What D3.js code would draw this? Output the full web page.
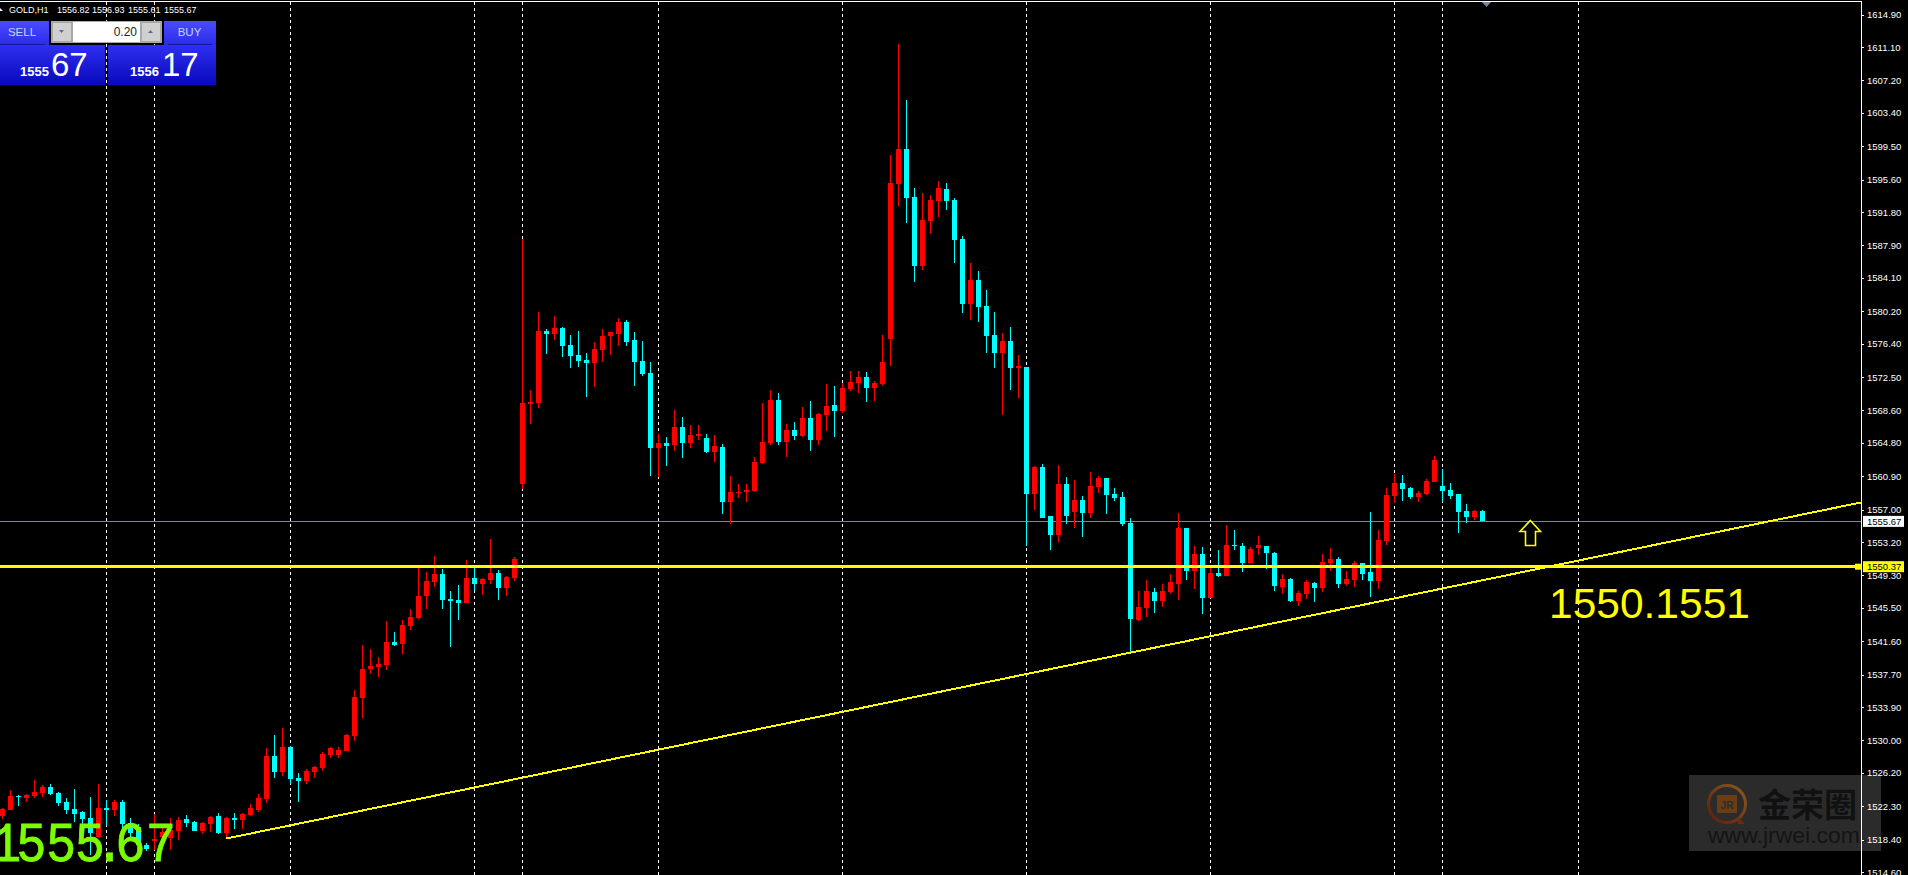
<!DOCTYPE html>
<html>
<head>
<meta charset="utf-8">
<title>GOLD,H1</title>
<script src="https://cdn.jsdelivr.net/npm/d3@7"></script>
<style>
    html, body { margin: 0; padding: 0; background: #000; overflow: hidden; }
    svg { display: block; }
    text { font-family: "Liberation Sans", Arial, sans-serif; }
</style>
</head>
<body>
<div id="plot"></div>
<script>
"use strict";

// hourly candles
const opens = [
    1521.15,1521.85,1523.49,1523.26,1523.49,1523.84,1524.54,1523.84,1522.79,1521.97,
    1521.62,1520.92,1518.73,1522.09,1521.85,1522.79,1520.33,1519.86,1517.76,1518.23,
    1518.73,1518.58,1519.40,1520.80,1520.45,1519.40,1520.22,1521.15,1519.16,1520.92,
    1520.68,1521.27,1521.85,1523.14,1528.17,1526.30,1529.22,1525.60,1525.24,1526.30,
    1526.77,1528.29,1528.29,1528.75,1530.51,1534.95,1538.34,1538.58,1538.81,1541.50,
    1541.27,1543.37,1544.31,1546.88,1548.52,1549.46,1546.53,1546.41,1546.06,1548.99,
    1548.29,1548.76,1549.57,1547.82,1548.99,1559.98,1569.34,1569.46,1577.88,1577.53,
    1578.23,1576.24,1575.07,1574.49,1574.13,1575.66,1577.29,1577.53,1578.93,1576.82,
    1574.37,1572.97,1564.19,1564.78,1564.54,1566.65,1564.78,1565.60,1565.36,1563.73,
    1564.31,1557.88,1558.93,1559.05,1559.16,1562.44,1564.78,1569.81,1564.90,1566.30,
    1565.60,1567.70,1565.13,1568.05,1569.22,1568.52,1571.09,1571.80,1572.50,1571.21,
    1571.68,1576.94,1595.07,1599.16,1593.55,1585.48,1590.74,1593.08,1594.48,1593.20,
    1588.64,1581.03,1583.84,1580.80,1577.41,1575.30,1576.71,1573.55,1573.67,1558.82,
    1561.97,1556.24,1554.02,1559.99,1556.71,1558.11,1556.59,1559.63,1560.69,1558.82,
    1558.47,1555.42,1544.08,1545.48,1547.35,1546.30,1547.35,1548.29,1554.84,1549.81,
    1551.80,1546.65,1549.58,1549.23,1552.85,1552.73,1550.75,1552.50,1552.73,1551.92,
    1547.94,1548.87,1546.30,1547.12,1548.41,1547.82,1550.75,1551.21,1548.29,1548.76,
    1550.75,1549.69,1548.64,1553.32,1558.58,1560.10,1559.52,1558.47,1558.82,1560.22,
    1559.75,1559.28,1558.82,1556.83,1556.13,1556.82
];
const closes = [
    1521.97,1523.49,1523.33,1523.61,1523.96,1524.54,1523.72,1522.67,1521.85,1521.39,
    1520.80,1519.12,1522.09,1521.85,1522.79,1520.22,1519.12,1517.76,1517.29,1518.42,
    1519.32,1519.51,1520.68,1520.33,1519.40,1520.33,1521.03,1519.16,1520.92,1520.68,
    1521.39,1522.09,1523.26,1528.17,1526.30,1529.22,1525.48,1525.24,1526.41,1526.88,
    1528.40,1529.10,1528.87,1530.62,1535.07,1538.34,1538.70,1538.93,1541.50,1541.15,
    1543.49,1544.43,1546.88,1548.64,1549.46,1546.41,1546.30,1546.06,1548.99,1548.29,
    1548.87,1549.57,1547.82,1549.11,1551.21,1569.46,1569.57,1577.88,1577.53,1578.23,
    1576.12,1574.95,1574.37,1574.13,1575.77,1577.29,1577.76,1578.93,1576.59,1574.25,
    1572.85,1564.19,1564.78,1564.43,1566.65,1564.78,1565.71,1565.83,1563.73,1564.43,
    1557.88,1559.05,1559.05,1559.28,1562.56,1564.90,1569.81,1564.90,1566.30,1565.60,
    1567.70,1565.13,1568.17,1569.11,1568.52,1571.21,1571.91,1572.50,1571.21,1571.80,
    1574.25,1595.19,1599.16,1593.43,1585.48,1590.86,1593.20,1594.60,1593.08,1588.52,
    1581.03,1583.84,1580.68,1577.29,1575.30,1576.71,1573.55,1573.78,1558.82,1561.97,
    1556.01,1554.02,1559.99,1556.24,1558.11,1556.59,1559.75,1560.69,1558.70,1558.35,
    1555.31,1544.20,1545.60,1547.47,1546.30,1547.47,1548.52,1554.84,1549.81,1551.80,
    1546.65,1549.58,1549.23,1552.85,1552.73,1550.75,1552.38,1552.85,1551.92,1548.06,
    1548.87,1546.30,1547.24,1548.52,1547.82,1550.86,1551.21,1548.29,1548.87,1550.75,
    1549.46,1548.64,1553.44,1558.70,1560.10,1559.40,1558.47,1558.93,1560.34,1562.79,
    1559.17,1558.58,1556.71,1556.13,1556.83,1555.67
];
const highs = [
    1522.05,1524.19,1523.61,1523.72,1525.36,1524.78,1524.89,1523.96,1523.26,1524.31,
    1521.74,1523.37,1524.89,1523.02,1523.02,1523.02,1520.92,1520.22,1517.95,1521.39,
    1519.71,1520.92,1521.03,1521.27,1520.57,1520.45,1521.15,1521.50,1521.03,1521.50,
    1521.50,1522.55,1523.72,1529.10,1530.62,1531.44,1529.34,1526.18,1526.65,1527.00,
    1528.64,1529.22,1529.22,1530.74,1535.89,1541.15,1540.68,1539.75,1543.96,1542.67,
    1544.07,1545.36,1550.16,1549.69,1551.56,1550.04,1547.47,1548.17,1551.09,1550.16,
    1548.99,1553.55,1549.92,1549.22,1551.45,1588.64,1570.98,1580.10,1578.11,1579.63,
    1578.35,1577.41,1577.88,1575.30,1576.59,1578.11,1577.76,1579.40,1579.16,1577.76,
    1576.71,1574.25,1565.83,1565.48,1568.64,1567.82,1566.88,1566.88,1565.83,1565.71,
    1564.66,1560.92,1559.98,1559.98,1563.14,1569.46,1570.98,1570.63,1567.00,1567.23,
    1568.99,1569.69,1568.29,1571.68,1571.45,1571.80,1573.20,1573.20,1573.08,1572.03,
    1577.41,1598.46,1611.44,1604.89,1594.60,1594.02,1593.78,1595.42,1595.19,1593.43,
    1588.99,1585.83,1584.89,1582.67,1580.10,1577.64,1578.34,1575.07,1573.67,1562.09,
    1562.32,1556.24,1562.21,1560.80,1560.45,1558.58,1561.39,1560.92,1560.69,1559.52,
    1559.05,1556.01,1547.47,1548.76,1547.82,1548.29,1549.46,1556.59,1554.84,1552.73,
    1552.62,1550.16,1552.27,1555.19,1554.61,1553.08,1552.62,1553.90,1552.73,1552.03,
    1549.46,1548.99,1547.47,1548.76,1548.52,1551.80,1552.50,1551.45,1549.81,1550.98,
    1550.75,1556.71,1554.61,1559.52,1561.16,1561.04,1559.63,1559.17,1560.57,1563.26,
    1561.74,1560.10,1558.82,1557.65,1556.94,1556.93
];
const lows = [
    1520.80,1521.85,1522.32,1522.79,1523.26,1523.37,1523.61,1522.32,1521.39,1520.45,
    1520.22,1516.59,1518.54,1519.98,1521.15,1519.40,1518.73,1517.37,1517.06,1517.17,
    1518.34,1517.17,1518.34,1519.86,1519.40,1519.05,1519.28,1519.05,1518.58,1519.63,
    1519.63,1521.15,1521.62,1522.67,1525.60,1525.83,1524.89,1522.79,1524.89,1525.60,
    1526.41,1527.93,1527.93,1528.75,1529.92,1532.61,1537.76,1537.41,1538.23,1541.03,
    1540.10,1542.91,1544.19,1545.36,1547.93,1545.36,1540.92,1544.07,1546.06,1547.47,
    1547.00,1548.29,1546.42,1546.88,1548.64,1559.40,1567.00,1568.87,1575.19,1576.82,
    1574.84,1573.55,1573.67,1570.16,1571.33,1574.25,1575.07,1576.12,1576.12,1571.45,
    1572.61,1560.92,1560.80,1562.09,1563.84,1563.02,1564.19,1565.13,1563.61,1562.56,
    1556.47,1555.30,1558.35,1557.88,1559.05,1562.32,1564.54,1564.54,1563.14,1565.13,
    1565.48,1563.84,1564.54,1566.18,1565.48,1568.29,1570.86,1570.63,1569.57,1569.69,
    1571.45,1573.78,1592.50,1590.51,1583.61,1585.01,1589.22,1591.21,1592.03,1585.83,
    1579.98,1579.16,1578.93,1575.30,1573.55,1568.05,1570.98,1570.04,1552.73,1556.94,
    1556.01,1552.27,1553.20,1555.31,1554.84,1553.79,1556.01,1558.93,1556.48,1558.00,
    1555.07,1540.34,1543.96,1544.43,1544.90,1545.60,1547.12,1546.42,1548.76,1547.70,
    1544.78,1546.65,1549.11,1549.23,1552.27,1549.69,1550.75,1551.68,1550.04,1547.47,
    1547.12,1546.18,1545.72,1546.54,1546.18,1547.35,1549.81,1547.82,1548.06,1547.94,
    1548.76,1546.77,1547.70,1552.85,1557.76,1558.00,1558.23,1557.88,1558.70,1560.22,
    1557.88,1558.23,1554.25,1555.42,1555.77,1555.61
];

const priceTicks = [
    1614.90,1611.10,1607.20,1603.40,1599.50,1595.60,1591.80,1587.90,1584.10,
    1580.20,1576.40,1572.50,1568.60,1564.80,1560.90,1557.00,1553.20,1549.30,
    1545.50,1541.60,1537.70,1533.90,1530.00,1526.20,1522.30,1518.40,1514.60
];
// bars where the period separators fall
const separators = [13, 19, 36, 59, 65, 82, 105, 128, 151, 174, 180, 197];

const bidPrice = 1555.67;
const supportPrice = 1550.37;
const trendBars = [28, 232.4];
const trendPrices = [1518.52, 1557.84];

const msm = {
    width: 1909,
    height: 875,
    axisX: 1861,
    bodyWidth: 5,
    lineNudge: 0.6 // horizontal lines sit on the pixel row below the exact price
}

const colors = {
    up: "#ff0000",
    down: "#00ffff",
    line: "#ffff00",
    bid: "#778899",
    text: "#ffffff",
    big: "#7cfc00"
}

let svg = "";
let x = "";
let y = "";

function makeScales() {
    // 8px per bar, first bar centred on 2.5
    x = d3.scaleLinear().domain([0, 185]).range([2.5, 1482.5]);
    y = d3.scaleLinear().domain([1557, 1518.4]).range([509.5, 839.5]);
}

function drawSeparators() {
    svg.append("g")
        .selectAll("line")
        .data(separators)
        .enter()
        .append("line")
        .attr("x1", d => x(d))
        .attr("x2", d => x(d))
        .attr("y1", 2)
        .attr("y2", msm.height)
        .attr("stroke", "#fff")
        .attr("stroke-dasharray", "3 3")
        .attr("shape-rendering", "crispEdges");
}

function drawBidLine() {
    svg.append("line")
        .attr("x1", 0)
        .attr("x2", msm.axisX)
        .attr("y1", y(bidPrice) + msm.lineNudge)
        .attr("y2", y(bidPrice) + msm.lineNudge)
        .attr("stroke", colors.bid)
        .attr("shape-rendering", "crispEdges");
}

function drawCandles() {
    let candles = svg.append("g")
        .attr("shape-rendering", "crispEdges")
        .selectAll("g")
        .data(opens)
        .enter()
        .append("g");
    let color = (o, i) => closes[i] >= o ? colors.up : colors.down;

    candles.append("line")
        .attr("x1", (o, i) => x(i))
        .attr("x2", (o, i) => x(i))
        .attr("y1", (o, i) => y(highs[i]))
        .attr("y2", (o, i) => y(lows[i]))
        .attr("stroke", color);

    candles.append("rect")
        .attr("x", (o, i) => x(i) - msm.bodyWidth / 2)
        .attr("width", msm.bodyWidth)
        .attr("y", (o, i) => y(Math.max(o, closes[i])))
        .attr("height", (o, i) => Math.max(1, Math.abs(y(o) - y(closes[i]))))
        .attr("fill", color);
}

function drawLevels() {
    // rising trend line
    svg.append("line")
        .attr("x1", x(trendBars[0]))
        .attr("y1", y(trendPrices[0]))
        .attr("x2", x(trendBars[1]))
        .attr("y2", y(trendPrices[1]))
        .attr("stroke", colors.line)
        .attr("stroke-width", 2)
        .attr("shape-rendering", "crispEdges");

    // horizontal level + its drag handle
    svg.append("line")
        .attr("x1", 0)
        .attr("x2", msm.axisX)
        .attr("y1", y(supportPrice) + msm.lineNudge)
        .attr("y2", y(supportPrice) + msm.lineNudge)
        .attr("stroke", colors.line)
        .attr("stroke-width", 3)
        .attr("shape-rendering", "crispEdges");
    svg.append("rect")
        .attr("x", 1855)
        .attr("y", y(supportPrice) - 2.5)
        .attr("width", 6)
        .attr("height", 6)
        .attr("fill", colors.line);

    // hollow arrow
    svg.append("path")
        .attr("d", "M1530.3 520.5 L1540.5 531.5 L1535.5 531.5 L1535.5 545.5 L1525.5 545.5 L1525.5 531.5 L1520 531.5 Z")
        .attr("fill", "#000")
        .attr("stroke", colors.line)
        .attr("stroke-width", 1.6);

    svg.append("text")
        .attr("x", 1549)
        .attr("y", 618)
        .attr("fill", colors.line)
        .style("font-size", "42.5px")
        .text("1550.1551");

    // glyphs placed one by one and squeezed a bit, the dot takes less room than a full mono cell
    svg.append("text")
        .attr("transform", "scale(0.9,1)")
        .attr("x", "-10 18 51 83 105 128 162")
        .attr("y", 861)
        .attr("fill", colors.big)
        .attr("stroke", colors.big)
        .attr("stroke-width", 0.8)
        .style("font-family", "'Liberation Mono', monospace")
        .style("font-size", "56px")
        .text("1555.67");
}

function drawWatermark() {
    let ring = svg.append("defs").append("linearGradient")
        .attr("id", "ring")
        .attr("x1", 1).attr("y1", 0)
        .attr("x2", 0).attr("y2", 1);
    ring.append("stop").attr("offset", 0).attr("stop-color", "#8a5a1c");
    ring.append("stop").attr("offset", 1).attr("stop-color", "#5e1c10");

    let mark = svg.append("g");
    mark.append("rect")
        .attr("x", 1689)
        .attr("y", 775)
        .attr("width", 192)
        .attr("height", 76)
        .attr("fill", "#2b2b2b");
    mark.append("circle")
        .attr("cx", 1727)
        .attr("cy", 804)
        .attr("r", 18.5)
        .attr("fill", "none")
        .attr("stroke", "url(#ring)")
        .attr("stroke-width", 3);
    mark.append("path")
        .attr("d", "M1738 817 L1745 824 L1738 824 Z")
        .attr("fill", "#6e2a12");
    mark.append("rect")
        .attr("x", 1717)
        .attr("y", 795)
        .attr("width", 20)
        .attr("height", 18)
        .attr("fill", "#6b3d14");
    mark.append("text")
        .attr("x", 1727)
        .attr("y", 809)
        .attr("text-anchor", "middle")
        .attr("fill", "#2b2b2b")
        .style("font-size", "10px")
        .style("font-weight", "bold")
        .text("JR");
    mark.append("text")
        .attr("x", 1758)
        .attr("y", 817)
        .attr("fill", "#111")
        .style("font-family", "'Noto Sans CJK SC'")
        .style("font-size", "33px")
        .style("font-weight", "bold")
        .text("金荣圈");
    mark.append("text")
        .attr("x", 1708)
        .attr("y", 843)
        .attr("fill", "#141414")
        .attr("textLength", 152)
        .attr("lengthAdjust", "spacingAndGlyphs")
        .style("font-size", "22px")
        .text("www.jrwei.com");
}

function drawAxis() {
    // frame: top edge and price axis edge
    svg.append("line")
        .attr("x1", 0).attr("x2", msm.axisX + 1)
        .attr("y1", 1.5).attr("y2", 1.5)
        .attr("stroke", "#fff")
        .attr("shape-rendering", "crispEdges");
    svg.append("line")
        .attr("x1", msm.axisX + 0.5).attr("x2", msm.axisX + 0.5)
        .attr("y1", 1).attr("y2", msm.height)
        .attr("stroke", "#fff")
        .attr("shape-rendering", "crispEdges");
    svg.append("rect")
        .attr("x", 1908).attr("y", 0)
        .attr("width", 1).attr("height", msm.height)
        .attr("fill", "#fff");

    let axis = d3.axisRight(y)
        .tickValues(priceTicks)
        .tickFormat(d3.format(".2f"))
        .tickSize(3)
        .tickPadding(3);
    let g = svg.append("g")
        .attr("transform", "translate(" + msm.axisX + ",0)")
        .call(axis);
    g.select(".domain").remove();
    g.selectAll("line").attr("stroke", "#fff").attr("shape-rendering", "crispEdges");
    g.selectAll("text")
        .attr("fill", colors.text)
        .style("font-family", "'Liberation Sans'")
        .style("font-size", "9.5px");
}

function priceTag(price, background) {
    svg.append("rect")
        .attr("x", 1863)
        .attr("y", y(price) - 5)
        .attr("width", 41)
        .attr("height", 11)
        .attr("fill", background);
    svg.append("text")
        .attr("x", 1867)
        .attr("y", y(price) + 4)
        .attr("fill", "#000")
        .style("font-size", "9.5px")
        .text(d3.format(".2f")(price));
}

function addText(txt, xPos, yPos, size, fill, weight, anchor) {
    return svg.append("text")
        .attr("x", xPos)
        .attr("y", yPos)
        .attr("fill", fill)
        .attr("text-anchor", anchor || "start")
        .style("font-size", size + "px")
        .style("font-weight", weight || "normal")
        .text(txt);
}

function drawPanel() {
    let defs = svg.append("defs");
    let btn = defs.append("linearGradient").attr("id", "btn").attr("x2", 0).attr("y2", 1);
    btn.append("stop").attr("offset", 0).attr("stop-color", "#4a4cff");
    btn.append("stop").attr("offset", 1).attr("stop-color", "#2a2ae6");
    let price = defs.append("linearGradient").attr("id", "priceBtn").attr("x2", 0).attr("y2", 1);
    price.append("stop").attr("offset", 0).attr("stop-color", "#2f2ff0");
    price.append("stop").attr("offset", 1).attr("stop-color", "#0808bc");

    svg.append("rect").attr("x", 0).attr("y", 21).attr("width", 49).attr("height", 25).attr("fill", "url(#btn)");
    svg.append("rect").attr("x", 164).attr("y", 21).attr("width", 52).attr("height", 25).attr("fill", "url(#btn)");
    svg.append("rect").attr("x", 0).attr("y", 45).attr("width", 105).attr("height", 40).attr("fill", "url(#priceBtn)");
    svg.append("rect").attr("x", 108).attr("y", 45).attr("width", 108).attr("height", 40).attr("fill", "url(#priceBtn)");
    svg.append("rect").attr("x", 0).attr("y", 44).attr("width", 45).attr("height", 1).attr("fill", "#1414a8");
    svg.append("rect").attr("x", 168).attr("y", 44).attr("width", 44).attr("height", 1).attr("fill", "#1414a8");

    // lot size spinner
    svg.append("rect").attr("x", 51).attr("y", 21).attr("width", 111).attr("height", 22).attr("fill", "#a8a8a8");
    svg.append("rect").attr("x", 53).attr("y", 23).attr("width", 18).attr("height", 18).attr("fill", "#d0d0d0");
    svg.append("rect").attr("x", 73).attr("y", 22).attr("width", 67).attr("height", 20).attr("fill", "#fff");
    svg.append("rect").attr("x", 142).attr("y", 23).attr("width", 18).attr("height", 18).attr("fill", "#d0d0d0");
    svg.append("path").attr("d", "M59 30 L64 30 L61.5 33 Z").attr("fill", "#5a68a8");
    svg.append("path").attr("d", "M148 33 L153 33 L150.5 30 Z").attr("fill", "#5a68a8");

    addText("SELL", 22, 36, 11.5, "#c8d4ff", "normal", "middle");
    addText("BUY", 189.5, 36, 11.5, "#c8d4ff", "normal", "middle");
    addText("0.20", 137, 36, 12, "#222", "normal", "end");
    addText("1555", 20, 76, 13, "#fff", "bold");
    addText("67", 51, 76, 33, "#fff");
    addText("1556", 130, 76, 13, "#fff", "bold");
    addText("17", 162, 76, 33, "#fff");

    // symbol header
    svg.append("path").attr("d", "M0 11 L3 11 L0 8 Z").attr("fill", "#fff");
    addText("GOLD,H1", 9, 13, 9, "#fff");
    addText("1556.82", 57, 13, 9, "#fff");
    addText("1556.93", 92, 13, 9, "#fff");
    addText("1555.61", 128, 13, 9, "#fff");
    addText("1555.67", 164, 13, 9, "#fff");

    // chart shift marker
    svg.append("path").attr("d", "M1482 2 L1491 2 L1486.5 7 Z").attr("fill", colors.bid);
}

window.onload = function () {
    svg = d3.select("#plot")
        .append("svg")
        .attr("width", msm.width)
        .attr("height", msm.height)
        .style("background", "#000");
    makeScales();
    drawSeparators();
    drawBidLine();
    drawCandles();
    drawWatermark();
    drawAxis();
    drawLevels();
    priceTag(bidPrice, "#fff");
    priceTag(supportPrice, colors.line);
    drawPanel();
}
</script>
</body>
</html>
